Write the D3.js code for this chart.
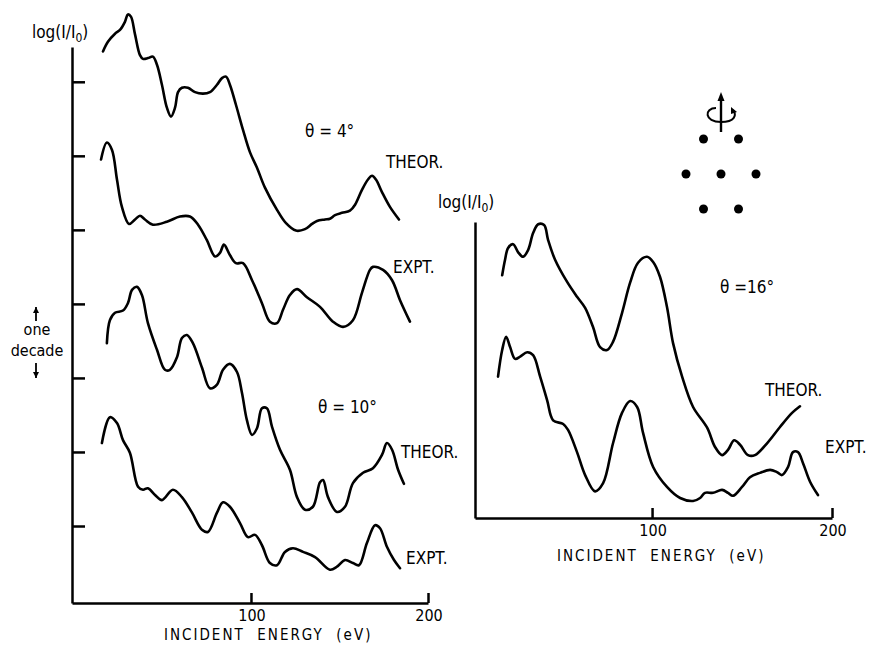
<!DOCTYPE html>
<html>
<head>
<meta charset="utf-8">
<script src="https://cdn.jsdelivr.net/npm/d3@7"></script>
<style>
  body { margin: 0; background: #fff; }
  svg text { font-family: "DejaVu Sans Condensed", "DejaVu Sans", sans-serif; fill: #000; }
  .lbl { font-size: 17px; }
  .small { font-size: 16px; }
  .xlab { font-size: 15px; letter-spacing: 2px; white-space: pre; }
  .axis path, .axis line { stroke: #000; stroke-width: 2.5px; }
  .curve { fill: none; stroke: #000; stroke-width: 2.6px; stroke-linejoin: round; stroke-linecap: round; }
</style>
</head>
<body>
<script>
// energy (eV), log(I/I0) in decades
const theor4 = [[16.4,6.41],[19.2,6.54],[23.2,6.65],[26.0,6.70],[28.8,6.81],[30.5,6.91],[32.2,6.88],[34.5,6.64],[37.3,6.36],[39.0,6.31],[41.8,6.32],[44.6,6.34],[46.9,6.23],[49.7,5.96],[52.5,5.65],[54.8,5.53],[57.1,5.65],[58.8,5.86],[61.0,5.92],[64.4,5.92],[68.4,5.86],[72.9,5.84],[76.8,5.86],[80.8,5.96],[83.6,6.05],[85.9,6.07],[88.1,5.96],[91.5,5.69],[95.5,5.35],[99.4,5.05],[103.4,4.84],[107.9,4.57],[114.7,4.27],[119.8,4.09],[125.4,3.99],[130.5,4.01],[134.5,4.08],[137.3,4.12],[141.8,4.14],[144.6,4.15],[147.5,4.20],[151.4,4.23],[155.9,4.26],[158.8,4.34],[162.7,4.54],[166.1,4.68],[168.4,4.73],[170.6,4.68],[174.0,4.51],[178.5,4.31],[183.6,4.14]];
const expt4 = [[15.3,4.95],[18.6,5.18],[21.5,5.08],[24.3,4.68],[27.1,4.31],[31.1,4.08],[34.5,4.14],[37.3,4.19],[40.1,4.14],[44.6,4.07],[52.5,4.11],[59.9,4.18],[65.5,4.18],[70.1,4.07],[75.1,3.86],[79.7,3.64],[82.5,3.69],[84.7,3.80],[88.1,3.66],[91.5,3.55],[95.5,3.55],[100.6,3.32],[106.2,3.01],[110.7,2.76],[114.7,2.74],[118.1,2.92],[122.0,3.12],[126.0,3.20],[131.6,3.09],[139.0,2.96],[146.3,2.76],[152.0,2.69],[157.6,2.78],[162.7,3.15],[167.2,3.46],[168.9,3.50],[174.6,3.46],[179.7,3.32],[184.2,3.05],[189.8,2.76]];
const theor10 = [[18.6,2.47],[20.3,2.78],[23.2,2.88],[27.7,2.91],[30.5,3.01],[32.8,3.19],[35.6,3.23],[38.4,3.12],[41.8,2.74],[46.9,2.38],[51.4,2.11],[54.2,2.11],[58.2,2.28],[61.0,2.54],[63.8,2.58],[67.2,2.47],[72.3,2.14],[76.8,1.86],[80.8,1.91],[84.2,2.11],[88.1,2.19],[92.1,2.08],[94.9,1.80],[97.7,1.43],[100.6,1.23],[103.4,1.32],[106.2,1.59],[109.0,1.59],[111.9,1.34],[116.4,1.03],[122.0,0.76],[126.0,0.39],[130.5,0.22],[135.0,0.26],[139.0,0.59],[140.7,0.62],[143.5,0.39],[148.6,0.19],[153.1,0.26],[157.6,0.58],[163.3,0.72],[168.9,0.78],[174.0,0.96],[176.8,1.12],[179.7,1.03],[183.1,0.76],[186.4,0.57]];
const expt10 = [[15.8,1.12],[20.3,1.47],[24.3,1.39],[27.7,1.16],[31.6,0.99],[36.2,0.53],[39.0,0.49],[41.8,0.51],[45.8,0.42],[49.7,0.35],[55.9,0.49],[61.0,0.39],[66.7,0.18],[72.3,-0.05],[75.7,-0.08],[80.8,0.18],[84.2,0.32],[88.1,0.26],[93.8,0.04],[98.3,-0.15],[102.3,-0.12],[106.2,-0.26],[110.7,-0.50],[114.7,-0.53],[119.2,-0.35],[123.7,-0.30],[129.4,-0.35],[136.2,-0.42],[144.6,-0.59],[148.6,-0.55],[153.1,-0.46],[157.6,-0.50],[161.0,-0.53],[165.5,-0.23],[170.1,0.01],[172.9,-0.03],[176.8,-0.28],[180.8,-0.46],[184.2,-0.57]];
const theor16 = [[16.7,3.28],[18.3,3.49],[20.0,3.65],[22.8,3.70],[25.6,3.59],[28.3,3.53],[31.1,3.62],[33.9,3.85],[36.7,3.97],[40.0,3.96],[42.2,3.76],[46.1,3.49],[52.8,3.19],[58.3,2.99],[62.8,2.84],[67.2,2.58],[71.1,2.31],[75.0,2.27],[78.3,2.38],[83.3,2.77],[87.8,3.18],[92.2,3.45],[97.2,3.53],[100.6,3.46],[104.4,3.26],[108.3,2.85],[111.7,2.36],[116.7,1.91],[122.8,1.50],[130.6,1.22],[135.0,0.96],[138.9,0.85],[142.2,0.92],[145.6,1.05],[148.9,0.99],[153.3,0.85],[157.2,0.85],[163.9,1.01],[171.1,1.23],[177.8,1.42],[182.2,1.51]];
const expt16 = [[14.4,1.91],[16.7,2.27],[18.9,2.45],[21.1,2.31],[23.9,2.15],[26.7,2.18],[30.6,2.24],[33.9,2.20],[37.8,1.91],[41.7,1.59],[45.0,1.32],[50.6,1.27],[53.3,1.19],[58.3,0.89],[62.8,0.58],[68.3,0.36],[72.8,0.47],[78.3,1.01],[83.3,1.42],[87.8,1.58],[91.7,1.50],[95.0,1.15],[100.6,0.69],[108.3,0.42],[115.6,0.27],[122.8,0.23],[126.7,0.27],[129.4,0.34],[133.9,0.34],[138.9,0.38],[142.2,0.34],[145.0,0.30],[150.0,0.42],[154.4,0.55],[160.0,0.61],[165.6,0.65],[169.4,0.62],[172.2,0.58],[175.6,0.69],[178.3,0.89],[181.1,0.89],[183.9,0.74],[187.8,0.49],[192.2,0.31]];

const xTicks = [100, 200];
const decadeTicks = [0, 1, 2, 3, 4, 5, 6];
// hexagonal surface: atom positions in lattice units (col, row)
const atomDots = [[-0.5,0],[0.5,0],[-1,1],[0,1],[1,1],[-0.5,2],[0.5,2]];

const svg = d3.select("body").append("svg")
    .attr("width", 870)
    .attr("height", 645);

// left panel scales
const xL = d3.scaleLinear().domain([-1.1, 200]).range([72, 428]);
const yL = d3.scaleLinear().domain([-1.04, 6.47]).range([603, 47]);
// right panel scales
const xR = d3.scaleLinear().domain([1.6, 200]).range([475, 832]);
const yR = d3.scaleLinear().domain([0, 4]).range([518, 222]);

function drawAxes(x, y, ticksY) {
    svg.append("g").attr("class", "axis")
        .attr("transform", "translate(0," + y.range()[0] + ")")
        .call(d3.axisBottom(x).tickValues(xTicks).tickSize(-10).tickSizeOuter(0).tickFormat(""));
    svg.append("g").attr("class", "axis")
        .attr("transform", "translate(" + x.range()[0] + ",0)")
        .call(d3.axisLeft(y).tickValues(ticksY).tickSize(-13).tickSizeOuter(0).tickFormat(""));
    xTicks.forEach(t => {
        svg.append("text").attr("class", "small")
            .attr("x", x(t) + 1).attr("y", y.range()[0] + 18)
            .attr("text-anchor", "middle")
            .text(t);
    });
}
drawAxes(xL, yL, decadeTicks);
drawAxes(xR, yR, []);

function drawCurve(data, x, y) {
    const line = d3.line()
        .x(d => x(d[0]))
        .y(d => y(d[1]))
        .curve(d3.curveCatmullRom.alpha(0.5));
    svg.append("path").datum(data).attr("class", "curve").attr("d", line);
}
drawCurve(theor4, xL, yL);
drawCurve(expt4, xL, yL);
drawCurve(theor10, xL, yL);
drawCurve(expt10, xL, yL);
drawCurve(theor16, xR, yR);
drawCurve(expt16, xR, yR);

// labels
function label(txt, x, y, cls) {
    return svg.append("text").attr("class", cls || "lbl").attr("x", x).attr("y", y).text(txt);
}
function logLabel(x, y) {
    const t = svg.append("text").attr("class", "lbl").attr("x", x).attr("y", y);
    t.append("tspan").text("log(I/I");
    t.append("tspan").attr("dy", 4).style("font-size", "12px").text("0");
    t.append("tspan").attr("dy", -4).text(")");
}
logLabel(32, 38);
logLabel(438, 208);

label("θ = 4°", 305, 137);
label("THEOR.", 386, 168);
label("EXPT.", 393, 273);
label("θ = 10°", 318, 413);
label("THEOR.", 401, 458);
label("EXPT.", 406, 564);

label("θ =16°", 720, 293);
label("THEOR.", 765, 396);
label("EXPT.", 825, 453);

label("INCIDENT  ENERGY  (eV)", 164, 640, "xlab");
label("INCIDENT  ENERGY  (eV)", 557, 561, "xlab");

// one decade marker
label("one", 37, 335, "small").attr("text-anchor", "middle");
label("decade", 37, 356, "small").attr("text-anchor", "middle");
const arrowY = [[321, 307], [363, 378]];
arrowY.forEach(a => {
    svg.append("line").attr("x1", 36).attr("x2", 36).attr("y1", a[0]).attr("y2", a[1])
        .attr("stroke", "#000").attr("stroke-width", 1.8);
    const dir = a[1] < a[0] ? 1 : -1;
    svg.append("path")
        .attr("d", "M36," + a[1] + "L33," + (a[1] + dir * 6) + "L39," + (a[1] + dir * 6) + "Z")
        .attr("fill", "#000");
});

// rotation symbol and surface atoms
const ix = d3.scaleLinear().domain([-1, 1]).range([686, 756]);
const iy = d3.scaleLinear().domain([0, 2]).range([139, 209]);
svg.selectAll(".atom").data(atomDots).enter().append("circle")
    .attr("class", "atom")
    .attr("cx", d => ix(d[0]))
    .attr("cy", d => iy(d[1]))
    .attr("r", 4.5)
    .attr("fill", "#000");
const cx = ix(0);
svg.append("line").attr("x1", cx).attr("x2", cx).attr("y1", 132).attr("y2", 98)
    .attr("stroke", "#000").attr("stroke-width", 2.4);
svg.append("path").attr("d", "M" + cx + ",92L" + (cx - 3.5) + ",101L" + (cx + 3.5) + ",101Z").attr("fill", "#000");
svg.append("path")
    .attr("d", "M" + (cx - 5) + ",108 C" + (cx - 17) + ",108 " + (cx - 17) + ",122 " + cx + ",122 C" + (cx + 14) + ",122 " + (cx + 16) + ",115 " + (cx + 12) + ",110")
    .attr("fill", "none").attr("stroke", "#000").attr("stroke-width", 2);
svg.append("path").attr("d", "M" + (cx + 10) + ",107L" + (cx + 16) + ",112L" + (cx + 10) + ",114Z").attr("fill", "#000");
</script>
</body>
</html>
